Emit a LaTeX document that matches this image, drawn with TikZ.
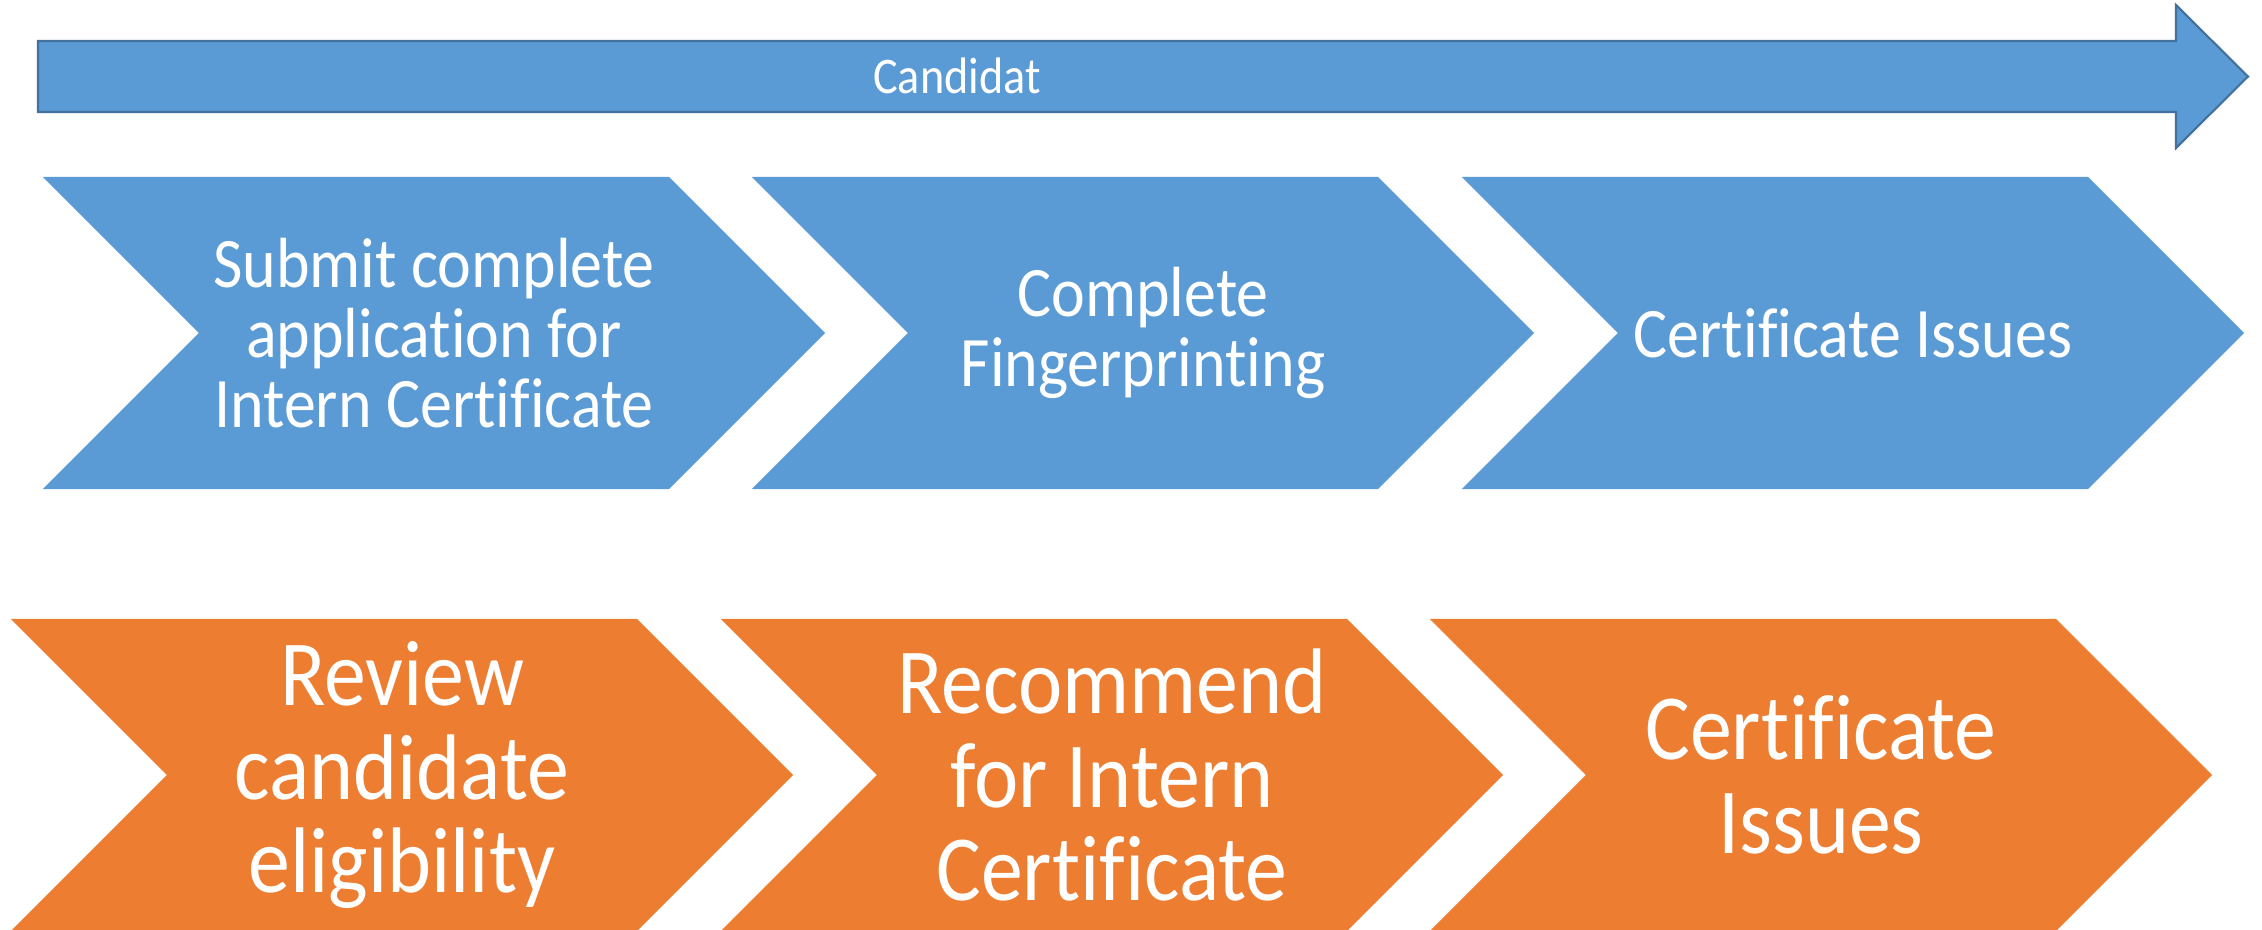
\documentclass[tikz,border=0pt]{standalone}
\usepackage{fontspec}
\setmainfont{Carlito}[FakeStretch=0.9, Ligatures=NoCommon]
\usetikzlibrary{shapes.symbols}
\definecolor{stepblue}{HTML}{5B9BD5}
\definecolor{steporange}{HTML}{ED7D31}
\definecolor{arrowline}{HTML}{41719C}

\begin{document}
\begin{tikzpicture}[x=0.01cm,y=-0.01cm,
        chev/.style={signal, signal from=west, signal to=east, signal pointer angle=90,
            inner sep=0pt, minimum width=7.82cm, minimum height=3.12cm,
            text=white, align=center},
        candchev/.style={chev, fill=stepblue, font=\fontsize{20.2}{19.9}\selectfont},
        boardchev/.style={chev, fill=steporange, font=\fontsize{26.5}{26.7}\selectfont}]
    \useasboundingbox (0,0) rectangle (2262,930);
    \draw[fill=stepblue, draw=arrowline, line width=0.6pt]
        (38,41) -- (2176,41) -- (2176,5) -- (2248,76.5) -- (2176,148) -- (2176,112) -- (38,112) -- cycle;
    \node[text=white, font=\fontsize{14.6}{16}\selectfont] (candidat) at (957,76) {Candidat};

    \node[candchev] (submit) at (434,333) {Submit complete\\application for\\Intern Certificate};
    \node[candchev] (finger) at (1143,333) {Complete\\Fingerprinting};
    \node[candchev] (issued) at (1853,333) {Certificate Issues};

    \node[boardchev] (review) at (402,775) {Review\\candidate\\eligibility};
    \node[boardchev] (recommend) at (1112,775) {Recommend\\for Intern\\Certificate};
    \node[boardchev] (issues) at (1821,775) {Certificate\\Issues};
\end{tikzpicture}
\end{document}
